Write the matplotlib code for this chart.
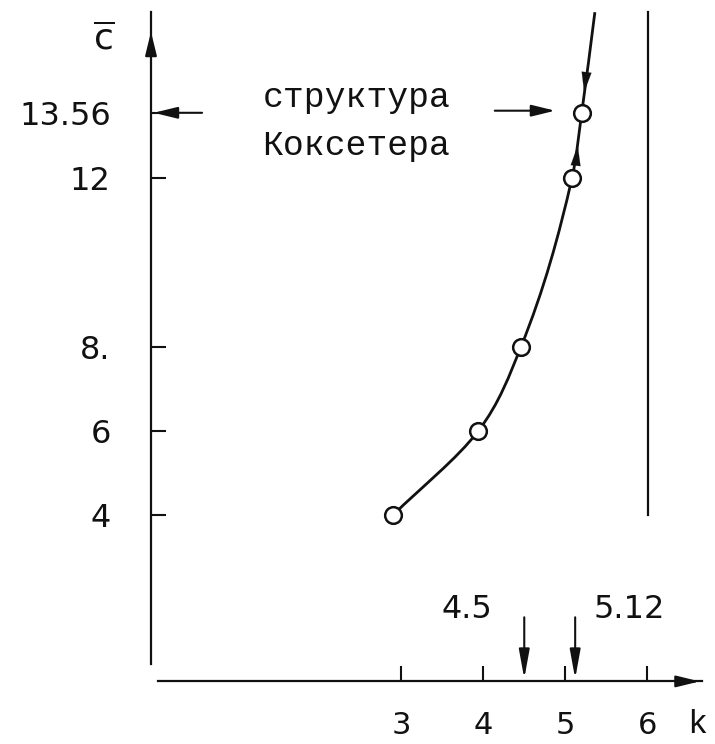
import matplotlib.pyplot as plt
from matplotlib.path import Path
from matplotlib.patches import PathPatch

plt.rcParams['font.family'] = ['DejaVu Sans']
plt.rcParams['mathtext.fontset'] = 'dejavusans'

# data
k_vals = [2.9, 3.94, 4.46, 5.08, 5.2]
c_vals = [4, 6, 8, 12, 13.56]
curve_top = (5.36, 15.95)          # where the curve leaves the frame
coxeter_c = 13.56
marked_k = [4.5, 5.12]
marked_labels = ['4.5', '5.12']
limit_k = 6.01                      # vertical line
limit_c = (4.0, 15.95)

xticks = [3, 4, 5, 6]
xtick_labels = ['3', '4', '5', '6']
yticks = [4, 6, 8, 12, 13.56]
ytick_labels = ['4', '6', '8.', '12', '13.56']

ink = '#111111'

fig = plt.figure(figsize=(7.15, 7.44), dpi=100)
ax = fig.add_axes([0, 0, 1, 1])
ax.set_xlim(-1.885, 6.823)
ax.set_ylim(-1.437, 16.24)

# axes as spines
for s in ['top', 'right']:
    ax.spines[s].set_visible(False)
ax.spines['left'].set_position(('data', -0.046))
ax.spines['left'].set_bounds(0.46, 15.95)
ax.spines['bottom'].set_position(('data', 0.05))
ax.spines['bottom'].set_bounds(0.04, 6.67)
for s in ['left', 'bottom']:
    ax.spines[s].set_linewidth(1.6)
    ax.spines[s].set_color(ink)

ax.set_xticks(xticks)
ax.set_xticklabels(xtick_labels)
ax.set_yticks(yticks)
ax.set_yticklabels(ytick_labels)
ax.tick_params(axis='both', direction='in', length=11, width=1.5,
               colors=ink, labelsize=23)
ax.tick_params(axis='x', pad=21, labelsize=22)
ax.tick_params(axis='y', pad=29)

head = '-|>,head_length=0.9,head_width=0.22'

# axis arrows
ax.annotate('', xy=(-0.046, 15.55), xytext=(-0.046, 15.0),
            arrowprops=dict(arrowstyle=head, color=ink, lw=1.5,
                            mutation_scale=16))
ax.annotate('', xy=(6.67, 0.05), xytext=(6.4, 0.05),
            arrowprops=dict(arrowstyle=head, color=ink, lw=1.5,
                            mutation_scale=16))

# axis names
ax.text(-0.62, 15.3, r'$\overline{\mathrm{c}}$', fontsize=26, ha='center',
        va='center', color=ink)
ax.text(6.6, -0.97, 'k', fontsize=24, family='Liberation Mono', ha='center',
        va='center', color=ink)

# smooth curve through the points: k as a function of c, cubic Bezier pieces
ks = k_vals + [curve_top[0]]
cs = c_vals + [curve_top[1]]
n = len(ks)
slopes = [(ks[i + 1] - ks[i]) / (cs[i + 1] - cs[i]) for i in range(n - 1)]
tang = [slopes[0]] + [(slopes[i - 1] + slopes[i]) / 2 for i in range(1, n - 1)] + [slopes[-1]]
verts = [(ks[0], cs[0])]
codes = [Path.MOVETO]
for i in range(n - 1):
    h = cs[i + 1] - cs[i]
    verts += [(ks[i] + tang[i] * h / 3, cs[i] + h / 3),
              (ks[i + 1] - tang[i + 1] * h / 3, cs[i + 1] - h / 3),
              (ks[i + 1], cs[i + 1])]
    codes += [Path.CURVE4] * 3
ax.add_patch(PathPatch(Path(verts, codes), fill=False, lw=2.0, color=ink,
                       zorder=2))

ax.plot(k_vals, c_vals, 'o', ms=12, mfc='white', mec=ink, mew=1.8, zorder=3)

# direction arrows on the curve
ax.annotate('', xy=(5.225, 13.98), xytext=(5.27, 14.7),
            arrowprops=dict(arrowstyle=head, color=ink, lw=0.1,
                            mutation_scale=16))
ax.annotate('', xy=(5.155, 12.85), xytext=(5.125, 12.3),
            arrowprops=dict(arrowstyle=head, color=ink, lw=0.1,
                            mutation_scale=16))

# asymptote
ax.plot([limit_k, limit_k], limit_c, color=ink, lw=1.6)

# Coxeter structure label and arrows
ax.text(1.31, 13.70, 'структура', fontsize=25, family='Liberation Mono',
        ha='left', va='baseline', color=ink)
ax.text(1.31, 12.56, 'Коксетера', fontsize=25, family='Liberation Mono',
        ha='left', va='baseline', color=ink)
ax.annotate('', xy=(-0.046, coxeter_c), xytext=(0.61, coxeter_c),
            arrowprops=dict(arrowstyle=head, color=ink, lw=1.5,
                            mutation_scale=16))
ax.annotate('', xy=(4.91, coxeter_c + 0.05), xytext=(4.107, coxeter_c + 0.05),
            arrowprops=dict(arrowstyle=head, color=ink, lw=1.5,
                            mutation_scale=16))

# marked k values on the axis
for kv, lab, dx in zip(marked_k, marked_labels, [-0.7, 0.66]):
    ax.annotate('', xy=(kv, 0.05), xytext=(kv, 1.64),
                arrowprops=dict(arrowstyle='-|>,head_length=1.1,head_width=0.2',
                                color=ink, lw=1.5, mutation_scale=16))
    ax.text(kv + dx, 1.77, lab, fontsize=23, ha='center', va='center',
            color=ink)

fig.savefig('out.png', dpi=100, facecolor='white')
